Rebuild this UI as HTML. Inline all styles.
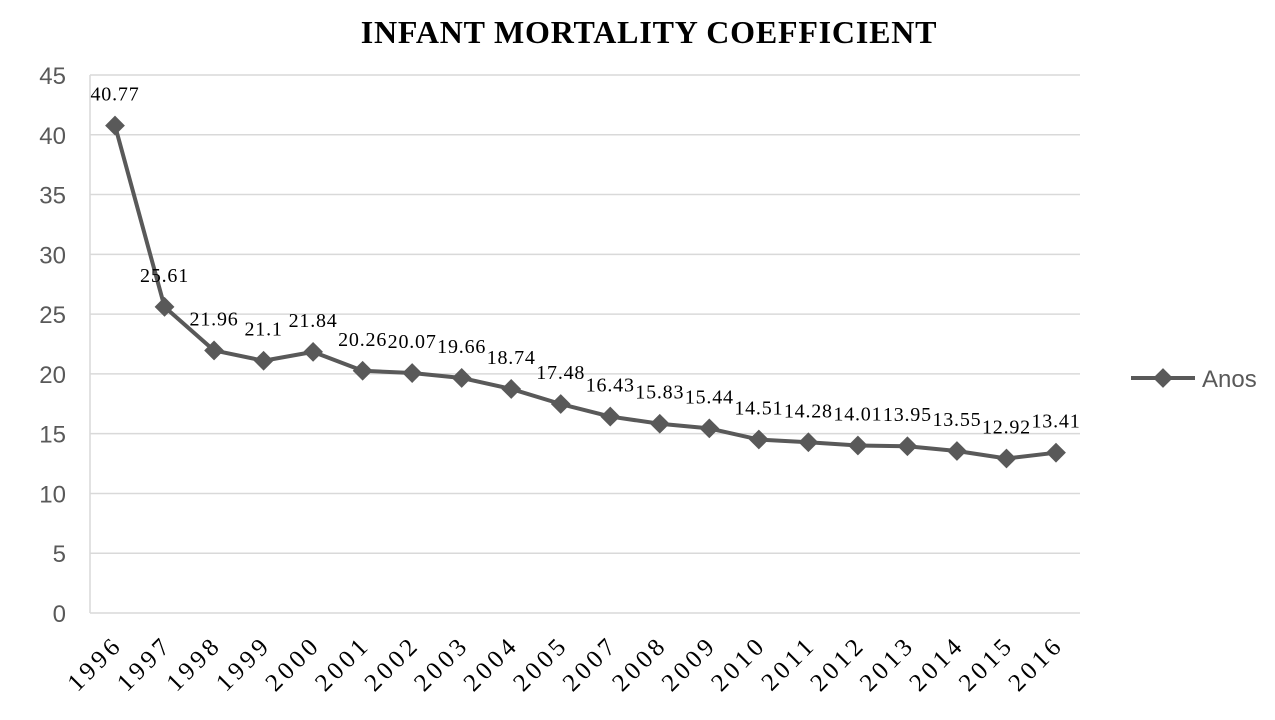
<!DOCTYPE html>
<html><head><meta charset="utf-8"><style>
body{margin:0;background:#fff;}
svg{display:block;}
</style></head><body>
<svg width="1275" height="720" xmlns="http://www.w3.org/2000/svg">
<text x="649" y="43" text-anchor="middle" font-family="Liberation Serif, serif" font-weight="bold" font-size="32" letter-spacing="0.8" fill="#000">INFANT MORTALITY COEFFICIENT</text>
<g id="grid"></g><g id="yticks"></g><g id="xticks"></g><g id="series"></g><g id="labels"></g>
<g>
<line x1="1131" y1="378" x2="1195" y2="378" stroke="#595959" stroke-width="4"/>
<rect x="1156" y="371" width="14" height="14" fill="#595959" transform="rotate(45 1163 378)"/>
<text x="1202" y="387" font-family="Liberation Sans, sans-serif" font-size="24" fill="#595959">Anos</text>
</g>
</svg>
<script>
const categories=["1996","1997","1998","1999","2000","2001","2002","2003","2004","2005","2007","2008","2009","2010","2011","2012","2013","2014","2015","2016"];
const values=[40.77,25.61,21.96,21.1,21.84,20.26,20.07,19.66,18.74,17.48,16.43,15.83,15.44,14.51,14.28,14.01,13.95,13.55,12.92,13.41];
const valueLabels=["40.77","25.61","21.96","21.1","21.84","20.26","20.07","19.66","18.74","17.48","16.43","15.83","15.44","14.51","14.28","14.01","13.95","13.55","12.92","13.41"];
const yTicks=[0,5,10,15,20,25,30,35,40,45];
const NS="http://www.w3.org/2000/svg";
const L=90,R=1080,T=75,B=613,yMax=45;
const x0=115,x1=1056;
function xs(i){return x0+(x1-x0)*i/(categories.length-1);}
function ys(v){return B-(B-T)*v/yMax;}
function mk(tag,attrs,parent){const e=document.createElementNS(NS,tag);for(const k in attrs)e.setAttribute(k,attrs[k]);parent.appendChild(e);return e;}
const grid=document.getElementById('grid'),yt=document.getElementById('yticks'),xt=document.getElementById('xticks'),se=document.getElementById('series'),lb=document.getElementById('labels');
yTicks.forEach(v=>{
 const g=mk('line',{x1:L,x2:R,y1:ys(v),y2:ys(v),stroke:'#d9d9d9','stroke-width':1.5},grid);
 
 
 const t=mk('text',{x:66,y:ys(v)+9,'text-anchor':'end','font-family':'Liberation Sans, sans-serif','font-size':24,fill:'#595959'},yt);
 t.textContent=v;
 
 
});
const ax=mk('line',{x1:L,x2:L,y1:T,y2:B,stroke:'#d9d9d9','stroke-width':1.5},grid);


categories.forEach((c,i)=>{
 const x=xs(i)+9,y=646;
 const t=mk('text',{x:x,y:y,'text-anchor':'end','font-family':'Liberation Serif, serif','font-size':25,'letter-spacing':4,fill:'#000',transform:`rotate(-45 ${x} ${y})`},xt);
 t.textContent=c;
 
 
});
const pts=values.map((v,i)=>xs(i)+','+ys(v)).join(' ');
const pl=mk('polyline',{points:pts,fill:'none',stroke:'#595959','stroke-width':4,'stroke-linejoin':'round'},se);


values.forEach((v,i)=>{
 const x=xs(i),y=ys(v);
 const r=mk('rect',{x:x-7,y:y-7,width:14,height:14,fill:'#595959',transform:`rotate(45 ${x} ${y})`},se);
 
 
 const t=mk('text',{x:x,y:y-25,'text-anchor':'middle','font-family':'Liberation Serif, serif','font-size':20,'letter-spacing':0.8,fill:'#000'},lb);
 t.textContent=valueLabels[i];
 
 
});
</script>
</body></html>
